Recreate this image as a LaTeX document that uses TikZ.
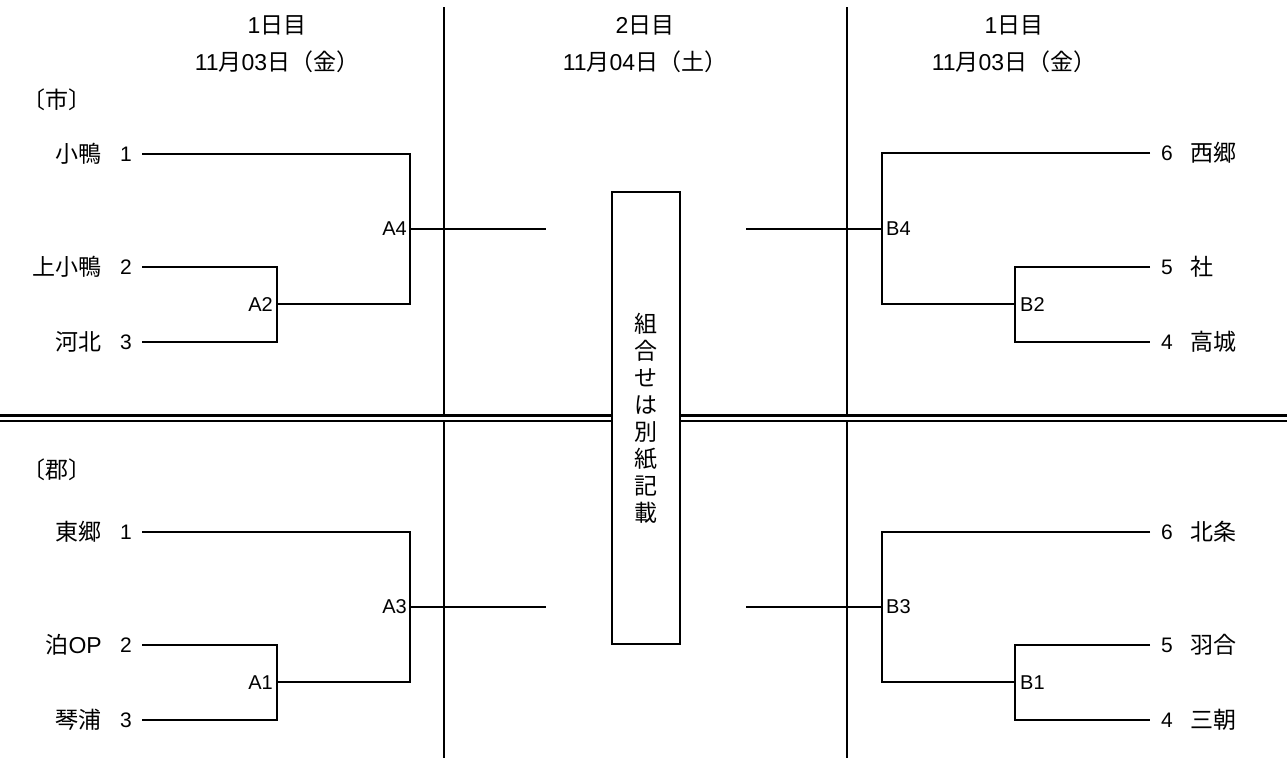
\documentclass[tikz,border=0pt]{standalone}
\usepackage{fontspec}
\setmainfont{Liberation Sans}
\newfontfamily\jp{Noto Sans CJK JP}
\newfontfamily\lat{Liberation Sans}
\begin{document}
\begin{tikzpicture}[x=1pt,y=-1pt,
  ln/.style={line width=2.4pt},
  divider/.style={line width=2.6pt},
  team/.style={font=\jp\fontsize{23}{27}\selectfont, inner sep=0pt},
  num/.style={font=\lat\fontsize{21}{25}\selectfont, inner sep=0pt},
  lab/.style={font=\lat\fontsize{20}{24}\selectfont, inner sep=0pt},
  head/.style={font=\jp\fontsize{23}{27}\selectfont, inner sep=0pt},
  group/.style={font=\jp\fontsize{23}{27}\selectfont, inner sep=0pt},
  note/.style={draw, line width=2.6pt, fill=white, minimum width=68pt, minimum height=452pt, inner sep=0pt, align=center, font=\jp\fontsize{23}{27}\selectfont}
]
\useasboundingbox (0,0) rectangle (1287,758);
\fill[white] (0,0) rectangle (1287,758);

% headers
\node[head] (h1a) at (277,25) {{\lat 1}日目};
\node[head] (h1b) at (277,62) {{\lat 11}月{\lat 03}日（金）};
\node[head] (h2a) at (645,25) {{\lat 2}日目};
\node[head] (h2b) at (645,62) {{\lat 11}月{\lat 04}日（土）};
\node[head] (h3a) at (1014,25) {{\lat 1}日目};
\node[head] (h3b) at (1014,62) {{\lat 11}月{\lat 03}日（金）};

\node[group] (g1) at (57,100) {〔市〕};
\node[group] (g2) at (57,470) {〔郡〕};

% dividers
\coordinate (v1t) at (444,7); \coordinate (v1b) at (444,758);
\coordinate (v2t) at (847,7); \coordinate (v2b) at (847,758);
\draw[divider] (v1t) -- (v1b);
\draw[divider] (v2t) -- (v2b);
\coordinate (hl) at (0,418); \coordinate (hr) at (1287,418);
\draw[line width=2.3pt, double=white, double distance=3pt] (hl) -- (hr);

% ---- left top (市)
\node[team, anchor=east] (n1) at (102,154) {小鴨};
\node[num] (d1) at (126,154) {1};
\node[team, anchor=east] (n2) at (102,267) {上小鴨};
\node[num] (d2) at (126,267) {2};
\node[team, anchor=east] (n3) at (102,342) {河北};
\node[num] (d3) at (126,342) {3};
\coordinate (s1) at (142,154);
\coordinate (s2) at (142,267);
\coordinate (s3) at (142,342);
\coordinate (A2) at (277,304);
\coordinate (A4) at (410,229);
\coordinate (mA4) at (546,229);
\draw[ln] (s2) -| (A2) |- (s3);
\draw[ln] (s1) -| (A4) |- (A2);
\draw[ln] (A4) -- (mA4);
\node[lab, anchor=east] (lA2) at (273,305) {A2};
\node[lab, anchor=east] (lA4) at (407,229) {A4};

% ---- left bottom (郡)
\node[team, anchor=east] (n4) at (102,532) {東郷};
\node[num] (d4) at (126,532) {1};
\node[team, anchor=east] (n5) at (102,645) {泊{\lat OP}};
\node[num] (d5) at (126,645) {2};
\node[team, anchor=east] (n6) at (102,720) {琴浦};
\node[num] (d6) at (126,720) {3};
\coordinate (s4) at (142,532);
\coordinate (s5) at (142,645);
\coordinate (s6) at (142,720);
\coordinate (A1) at (277,682);
\coordinate (A3) at (410,607);
\coordinate (mA3) at (546,607);
\draw[ln] (s5) -| (A1) |- (s6);
\draw[ln] (s4) -| (A3) |- (A1);
\draw[ln] (A3) -- (mA3);
\node[lab, anchor=east] (lA1) at (273,683) {A1};
\node[lab, anchor=east] (lA3) at (407,607) {A3};

% ---- right top
\node[num] (r6) at (1167,153) {6};
\node[team, anchor=west] (t6) at (1190,153) {西郷};
\node[num] (r5) at (1167,267) {5};
\node[team, anchor=west] (t5) at (1190,267) {社};
\node[num] (r4) at (1167,342) {4};
\node[team, anchor=west] (t4) at (1190,342) {高城};
\coordinate (e6) at (1150,153);
\coordinate (e5) at (1150,267);
\coordinate (e4) at (1150,342);
\coordinate (B2) at (1015,304);
\coordinate (B4) at (882,229);
\coordinate (mB4) at (746,229);
\draw[ln] (e5) -| (B2) |- (e4);
\draw[ln] (e6) -| (B4) |- (B2);
\draw[ln] (B4) -- (mB4);
\node[lab, anchor=west] (lB2) at (1020,305) {B2};
\node[lab, anchor=west] (lB4) at (886,229) {B4};

% ---- right bottom
\node[num] (r3) at (1167,532) {6};
\node[team, anchor=west] (t3) at (1190,532) {北条};
\node[num] (r2) at (1167,645) {5};
\node[team, anchor=west] (t2) at (1190,645) {羽合};
\node[num] (r1) at (1167,720) {4};
\node[team, anchor=west] (t1) at (1190,720) {三朝};
\coordinate (e3) at (1150,532);
\coordinate (e2) at (1150,645);
\coordinate (e1) at (1150,720);
\coordinate (B1) at (1015,682);
\coordinate (B3) at (882,607);
\coordinate (mB3) at (746,607);
\draw[ln] (e2) -| (B1) |- (e1);
\draw[ln] (e3) -| (B3) |- (B1);
\draw[ln] (B3) -- (mB3);
\node[lab, anchor=west] (lB1) at (1020,683) {B1};
\node[lab, anchor=west] (lB3) at (886,607) {B3};

% center box
\node[note] (box) at (646,418) {組\\合\\せ\\は\\別\\紙\\記\\載};
\end{tikzpicture}
\end{document}
